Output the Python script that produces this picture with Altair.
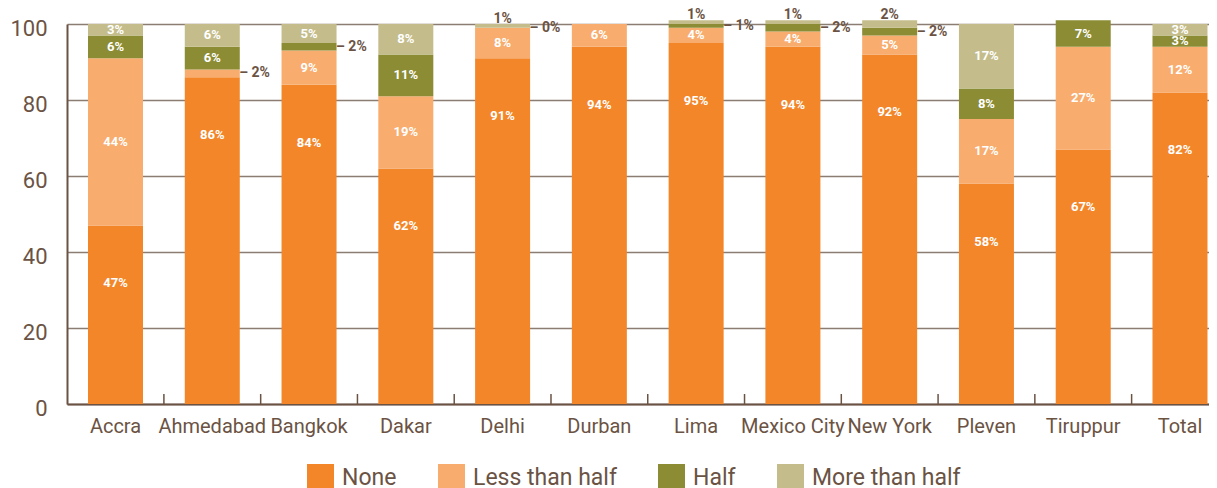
import altair as alt
import pandas as pd

cities = ["Accra", "Ahmedabad", "Bangkok", "Dakar", "Delhi", "Durban", "Lima",
          "Mexico City", "New York", "Pleven", "Tiruppur", "Total"]
categories = ["None", "Less than half", "Half", "More than half"]
none_vals = [47, 86, 84, 62, 91, 94, 95, 94, 92, 58, 67, 82]
less_vals = [44, 2, 9, 19, 8, 6, 4, 4, 5, 17, 27, 12]
half_vals = [6, 6, 2, 11, 0, 0, 1, 2, 2, 8, 7, 3]
more_vals = [3, 6, 5, 8, 1, 0, 1, 1, 2, 17, 0, 3]
colors = ["#F4862A", "#F8AC6D", "#8C8C34", "#C4BD8B"]

# small segments labelled outside the bar
right_labels = [("Ahmedabad", "Less than half"), ("Bangkok", "Half"), ("Delhi", "Half"),
                ("Lima", "Half"), ("Mexico City", "Half"), ("New York", "Half")]
top_labels = [("Delhi", "More than half"), ("Lima", "More than half"),
              ("Mexico City", "More than half"), ("New York", "More than half")]

BROWN = "#6B5344"
GRID = "#8C7D73"
LBL = "Roboto"

series = [none_vals, less_vals, half_vals, more_vals]
rows = []
for i, c in enumerate(cities):
    acc = 0
    for k, cat in enumerate(categories):
        v = series[k][i]
        pos = "in" if v >= 3 else ("right" if (c, cat) in right_labels else ("top" if (c, cat) in top_labels else "hide"))
        text = f"{v}%" if pos in ("in", "top") else f"– {v}%"
        rows.append({"city": c, "cat": cat, "rank": k, "value": v, "y0": acc, "y1": acc + v,
                     "mid": acc + v / 2, "pos": pos, "label": text,
                     "isnone": cat == "None"})
        acc += v
df = pd.DataFrame(rows)
tick_df = pd.DataFrame({"city": cities[:-1]})

xscale = alt.Scale(domain=cities, paddingInner=0.4316, paddingOuter=0.1163, align=0.933, round=False)
xaxis = alt.Axis(title=None, ticks=False, domainColor=BROWN, domainWidth=2, labelAngle=0,
                 labelFont="Roboto", labelFontSize=20, labelColor=BROWN, labelPadding=12,
                 labelOverlap=False, grid=False)
yscale = alt.Scale(domain=[0, 100], nice=False)
yaxis = alt.Axis(title=None, values=[0, 20, 40, 60, 80, 100], ticks=False, tickSize=0,
                 domainColor=BROWN, domainWidth=2, grid=True, gridColor=GRID, gridWidth=1.5,
                 labelFont="Roboto", labelFontSize=22, labelColor=BROWN, labelPadding=20,
                 labelOffset=4)

X = lambda **kw: alt.X("city:N", scale=xscale, axis=xaxis, **kw)

base = alt.Chart(df)

bars = base.mark_bar().encode(
    x=X(),
    y=alt.Y("y0:Q", scale=yscale, axis=yaxis),
    y2="y1:Q",
    color=alt.Color("cat:N", scale=alt.Scale(domain=categories, range=colors),
                    legend=alt.Legend(orient="none", legendX=240, legendY=440,
                                      direction="horizontal", title=None,
                                      symbolType="square", symbolSize=729,
                                      symbolStrokeWidth=0, symbolOpacity=1,
                                      labelFont="Roboto", labelFontSize=23,
                                      labelColor=BROWN, labelOffset=8,
                                      columnPadding=41)),
)

ticks = alt.Chart(tick_df).mark_rule(
    color=BROWN, strokeWidth=1.5, xOffset=48.4
).encode(
    x=X(),
    y=alt.value(380),
    y2=alt.value(370),
)

in_mid = base.transform_filter("datum.pos == 'in' && !datum.isnone").mark_text(
    font=LBL, fontWeight="bold", fontSize=13, color="white", baseline="middle"
).encode(x=X(), y=alt.Y("mid:Q", scale=yscale, axis=yaxis), text="label:N")

in_none = base.transform_filter("datum.pos == 'in' && datum.isnone").mark_text(
    font=LBL, fontWeight="bold", fontSize=13, color="white", baseline="middle", dy=58
).encode(x=X(), y=alt.Y("y1:Q", scale=yscale, axis=yaxis), text="label:N")

right = base.transform_filter("datum.pos == 'right'").mark_text(
    font=LBL, fontWeight="bold", fontSize=14, color=BROWN, baseline="middle",
    align="left", dx=27
).encode(x=X(), y=alt.Y("mid:Q", scale=yscale, axis=yaxis), text="label:N")

top = base.transform_filter("datum.pos == 'top'").mark_text(
    font=LBL, fontWeight="bold", fontSize=14, color=BROWN, baseline="middle", dy=-5
).encode(x=X(), y=alt.Y("y1:Q", scale=yscale, axis=yaxis), text="label:N")

chart = alt.layer(bars, ticks, in_mid, in_none, right, top).properties(
    width=1142, height=380,
    autosize=alt.AutoSizeParams(type="none"),
    padding={"left": 59, "top": 16, "right": 0, "bottom": 84},
).configure_view(stroke=None)

chart.save("out.html", embed_options={"renderer": "svg", "actions": False})
